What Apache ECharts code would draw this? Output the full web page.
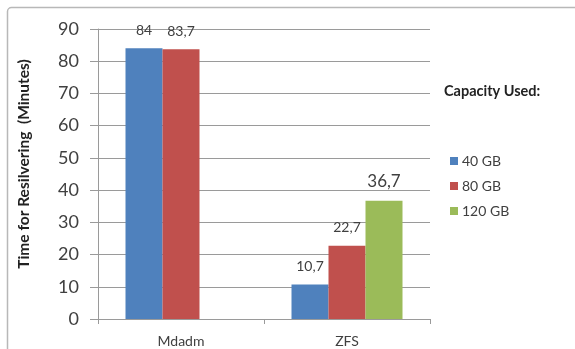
<!DOCTYPE html>
<html>
<head>
<meta charset="utf-8">
<script src="https://cdn.jsdelivr.net/npm/echarts@6/dist/echarts.min.js"></script>
<style>
  html, body { margin: 0; padding: 0; background: #fff; }
  #chart { width: 575px; height: 349px; }
</style>
</head>
<body>
<div id="chart"></div>
<script>
// data
const categories = ['Mdadm', 'ZFS']
const seriesNames = ['40 GB', '80 GB', '120 GB']
const values40 = [84, 10.7]
const values80 = [83.7, 22.7]
const values120 = [null, 36.7]
const yTicks = [0, 90, 10] // min, max, interval

const colors = ['#4F81BD', '#C0504D', '#9BBB59']
const textColor = '#404040'
const gridColor = '#9a9a9a'
const fontFamily = 'Lato, "Open Sans", sans-serif'

const commaFmt = p => String(p.value).replace('.', ',')

const makeSeries = (name, data, idx, labelSize) => ({
  name,
  type: 'bar',
  data,
  barWidth: 37,
  barGap: '0%',
  itemStyle: { color: colors[idx] },
  label: {
    show: true,
    position: 'top',
    distance: 11,
    color: textColor,
    fontSize: labelSize,
    fontFamily,
    formatter: commaFmt
  }
})

const chart = echarts.init(document.getElementById('chart'))
chart.setOption({
  animation: false,
  textStyle: { fontFamily },
  graphic: [
    {
      type: 'rect',
      shape: { x: 7.5, y: 7.5, width: 700, height: 500, r: 4 },
      style: { fill: 'none', stroke: '#b8b8b8', lineWidth: 1.5 },
      silent: true
    }
  ],
  title: {
    text: 'Capacity Used:',
    left: 439,
    top: 79,
    textStyle: { fontSize: 14.5, fontWeight: 'bold', color: '#222', fontFamily }
  },
  legend: {
    orient: 'vertical',
    left: 445,
    top: 149,
    itemWidth: 8,
    itemHeight: 8,
    itemGap: 11,
    icon: 'rect',
    textStyle: { fontSize: 14, color: textColor, fontFamily, padding: [0, 0, 0, -1] },
    data: seriesNames
  },
  grid: { left: 98, right: 145, top: 29, bottom: 30 },
  xAxis: {
    type: 'category',
    data: categories,
    axisLine: { lineStyle: { color: gridColor } },
    axisTick: { show: true, length: 5, lineStyle: { color: gridColor } },
    axisLabel: { color: textColor, fontSize: 14, margin: 15, fontFamily }
  },
  yAxis: {
    type: 'value',
    min: yTicks[0],
    max: yTicks[1],
    interval: yTicks[2],
    name: 'Time for Resilvering  (Minutes)',
    nameLocation: 'middle',
    nameGap: 66,
    nameTextStyle: {
      fontSize: 15.5,
      fontWeight: 'bold',
      color: '#222',
      fontFamily,
      padding: [0, 0, 0, 20]
    },
    axisLine: { show: true, lineStyle: { color: gridColor } },
    axisTick: { show: true, length: 8, lineStyle: { color: gridColor } },
    axisLabel: { color: textColor, fontSize: 18, margin: 19, fontFamily },
    splitLine: { lineStyle: { color: gridColor } }
  },
  series: [
    makeSeries(seriesNames[0], values40, 0, 14),
    makeSeries(seriesNames[1], values80, 1, 14),
    makeSeries(seriesNames[2], values120, 2, 17)
  ]
})
</script>
</body>
</html>
